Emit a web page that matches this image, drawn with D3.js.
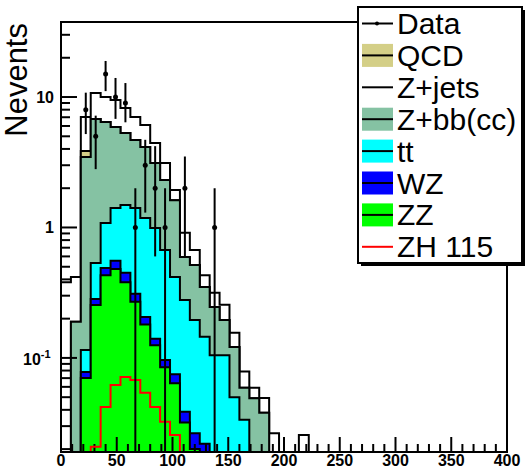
<!DOCTYPE html>
<html>
<head>
<meta charset="utf-8">
<script src="https://d3js.org/d3.v7.min.js"></script>
<style>
body { margin: 0; background: #fff; }
text { font-family: "Liberation Sans", Arial, sans-serif; }
</style>
</head>
<body>
<div id="chart"></div>
<script>
// 45 bins between 0 and 400, values per bin (missing bins are empty)
var nBins = 45, xMax = 400;
var zz    = [0, 0, 0.070, 0.255, 0.43, 0.48, 0.38, 0.27, 0.18, 0.125, 0.085, 0.064, 0.032, 0.02, 0];
var wz    = [0, 0, 0.008, 0.028, 0.06, 0.075, 0.069, 0.04, 0.026, 0.015, 0.0115, 0.0108, 0.0067, 0.0065, 0.022];
var tt    = [0, 0, 0.037, 0.252, 0.593, 0.855, 1.037, 1.10, 0.974, 0.851, 0.576, 0.343, 0.239, 0.169, 0.123, 0.105, 0.105, 0.050, 0.0335];
var zbb   = [0, 0.189, 3.355, 6.245, 5.347, 4.48, 3.814, 3.27, 2.96, 2.13, 1.638, 1.2, 0.316, 0.32, 0.205, 0.141, 0.09, 0.071, 0.0255, 0.049, 0.038];
var qcd   = [0, 0, 0.39];
var zjets = [0.38, 0.229, 3.17, 3.95, 3.57, 3.59, 2.93, 2.35, 1.96, 1.32, 0.81, 0.32, 0.316, 0.155, 0.08, 0.07, 0.061, 0.035, 0.0196, 0.01, 0.0113, 0.0265, 0, 0, 0.0256];
var zh    = [0, 0, 0, 0.0208, 0.0421, 0.0621, 0.0715, 0.0678, 0.054, 0.0421, 0.0324, 0.0257];

// data points: bin index, value, error bar low/high ends
var dataBin = [2, 3, 4, 5, 6, 7, 8, 9, 10, 12, 15];
var dataVal = [8, 5, 15, 10, 9, 1, 3, 2, 1, 2, 1];
var dataLo  = [5.2, 2.8, 11.1, 6.8, 6.4, 0, 1.3, 0.6, 0, 0.6, 0];
var dataHi  = [10.8, 7.2, 18.9, 14, 12.8, 2, 4.7, 4.2, 2, 3.5, 2];

var xTicks = [0, 50, 100, 150, 200, 250, 300, 350, 400];
var legendNames = ["Data", "QCD", "Z+jets", "Z+bb(cc)", "tt", "WZ", "ZZ", "ZH 115"];

var keys = ["zz", "wz", "tt", "zbb", "qcd", "zjets"];
var fills = {zz: "#00ff00", wz: "#0000ff", tt: "#00ffff", zbb: "#85c2a3", qcd: "#d4cf87", zjets: "#ffffff"};
var series = {zz: zz, wz: wz, tt: tt, zbb: zbb, qcd: qcd, zjets: zjets};

var svg = d3.select("#chart").append("svg")
  .attr("width", 526).attr("height", 469);

var ymin = 0.019, ymax = 37.6;
var x = d3.scaleLinear().domain([0, xMax]).range([61, 507]);
var y = d3.scaleLog().domain([ymin, ymax]).range([452, 22]).clamp(true);
var yv = function(v) { return y(Math.max(v, ymin)); };
var bw = xMax / nBins;

// table for the stack
var rows = d3.range(nBins).map(function(k) {
  var r = {bin: k};
  keys.forEach(function(key) { r[key] = series[key][k] || 0; });
  return r;
});
var stacked = d3.stack().keys(keys)(rows);

function steps(tops) {
  var pts = [];
  tops.forEach(function(v, k) {
    pts.push({x: x(k * bw), v: v});
    pts.push({x: x((k + 1) * bw), v: v});
  });
  return pts;
}

var area = d3.area()
  .x(function(d) { return d.x; })
  .y0(y.range()[0])
  .y1(function(d) { return yv(d.v); });

var line = d3.line()
  .x(function(d) { return d.x; })
  .y(function(d) { return yv(d.v); });

// draw cumulative histograms from the top one down
stacked.slice().reverse().forEach(function(layer) {
  svg.append("path")
    .attr("d", area(steps(layer.map(function(d) { return d[1]; }))))
    .attr("fill", fills[layer.key])
    .attr("stroke", "#000")
    .attr("stroke-width", 2)
    .attr("stroke-linejoin", "miter");
});

// axis ticks, drawn inside the frame like ROOT
var g = svg.append("g").attr("stroke", "#000").attr("stroke-width", 2);
d3.range(0, xMax + 1, 10).forEach(function(t) {
  var major = t % 50 === 0;
  g.append("line")
    .attr("x1", x(t)).attr("x2", x(t))
    .attr("y1", 452).attr("y2", 452 - (major ? 15 : 8));
});
[0.01, 0.1, 1, 10].forEach(function(dec) {
  for (var m = 1; m <= 9; m++) {
    var v = dec * m;
    if (v < ymin || v > ymax) continue;
    g.append("line")
      .attr("x1", 61).attr("x2", 61 + (m === 1 ? 16 : 9))
      .attr("y1", y(v)).attr("y2", y(v));
  }
});

// signal, not stacked
var zhTops = d3.range(nBins).map(function(k) { return zh[k] || 0; });
svg.append("path")
  .attr("d", line(steps(zhTops)))
  .attr("fill", "none")
  .attr("stroke", "#ff0000")
  .attr("stroke-width", 2);

// frame
svg.append("rect")
  .attr("x", 61).attr("y", 22)
  .attr("width", 446).attr("height", 430)
  .attr("fill", "none").attr("stroke", "#000").attr("stroke-width", 2);

// data points
dataBin.forEach(function(k, i) {
  var cx = x((k + 0.5) * bw);
  svg.append("line")
    .attr("x1", cx).attr("x2", cx)
    .attr("y1", yv(dataLo[i])).attr("y2", yv(dataHi[i]))
    .attr("stroke", "#000").attr("stroke-width", 2);
  svg.append("circle")
    .attr("cx", cx).attr("cy", yv(dataVal[i]))
    .attr("r", 2.5).attr("fill", "#000");
});

// tick labels
svg.selectAll(".xlab")
  .data(xTicks)
  .enter().append("text")
    .attr("x", function(d) { return x(d); })
    .attr("y", 466)
    .attr("text-anchor", "middle")
    .style("font-size", "16px")
    .style("font-weight", "bold")
    .text(function(d) { return d; });

svg.append("text").attr("x", 54).attr("y", y(10) + 6).attr("text-anchor", "end")
  .style("font-size", "16px").style("font-weight", "bold").text("10");
svg.append("text").attr("x", 54).attr("y", y(1) + 6).attr("text-anchor", "end")
  .style("font-size", "16px").style("font-weight", "bold").text("1");
var lab = svg.append("text").attr("x", 23).attr("y", y(0.1) + 7)
  .style("font-size", "16px").style("font-weight", "bold");
lab.append("tspan").text("10");
lab.append("tspan").attr("dy", -7).style("font-size", "11px").text("-1");

svg.append("text")
  .attr("transform", "translate(27,23) rotate(-90)")
  .attr("text-anchor", "end")
  .style("font-size", "31px")
  .text("Nevents");

// legend
var lg = svg.append("g");
lg.append("rect").attr("x", 361).attr("y", 10).attr("width", 164).attr("height", 256).attr("fill", "#000");
lg.append("rect").attr("x", 358).attr("y", 7).attr("width", 164).attr("height", 256)
  .attr("fill", "#fff").attr("stroke", "#000").attr("stroke-width", 2);

var legFill = [null, fills.qcd, null, fills.zbb, fills.tt, fills.wz, fills.zz, null];
legendNames.forEach(function(name, i) {
  var cy = 23.5 + i * 31.9;
  if (legFill[i]) {
    lg.append("rect").attr("x", 362).attr("y", cy - 11.5).attr("width", 31).attr("height", 23)
      .attr("fill", legFill[i]);
  }
  lg.append("line").attr("x1", 362).attr("x2", 393).attr("y1", cy).attr("y2", cy)
    .attr("stroke", i === 7 ? "#ff0000" : "#000").attr("stroke-width", 2);
  if (i === 0) {
    lg.append("circle").attr("cx", 377).attr("cy", cy).attr("r", 2).attr("fill", "#000");
  }
  lg.append("text").attr("x", 397).attr("y", cy + 10.5)
    .style("font-size", "30px").text(name);
});
</script>
</body>
</html>
